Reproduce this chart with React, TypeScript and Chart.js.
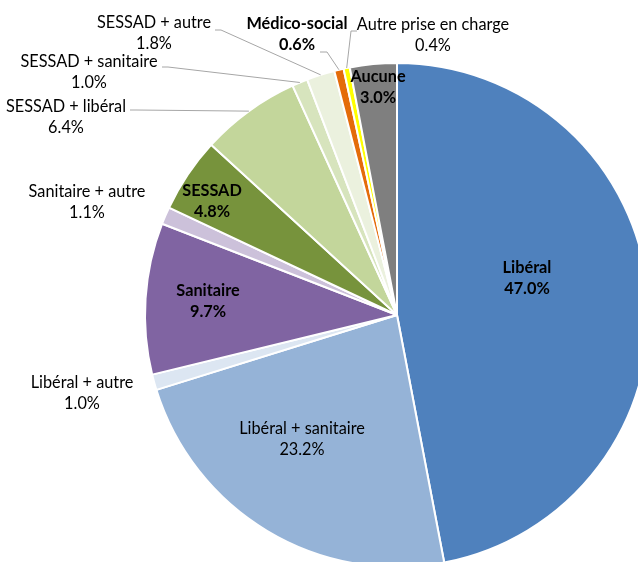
import React, { useEffect, useRef } from "react";
import { Chart, registerables } from "chart.js";

Chart.register(...registerables);

const categories = [
  "Libéral",
  "Libéral + sanitaire",
  "Libéral + autre",
  "Sanitaire",
  "Sanitaire + autre",
  "SESSAD",
  "SESSAD + libéral",
  "SESSAD + sanitaire",
  "SESSAD + autre",
  "Médico-social",
  "Autre prise en charge",
  "Aucune",
];

const shares = [47.0, 23.2, 1.0, 9.7, 1.1, 4.8, 6.4, 1.0, 1.8, 0.6, 0.4, 3.0];

const boldCategories = ["Libéral", "Sanitaire", "SESSAD", "Médico-social", "Aucune"];

const sliceColors = [
  "#4F81BD",
  "#95B3D7",
  "#DCE6F2",
  "#8064A2",
  "#CCC1DA",
  "#77933C",
  "#C3D69B",
  "#D7E4BD",
  "#EBF1DE",
  "#E46C0A",
  "#FFFF00",
  "#7F7F7F",
];

// Label layout: centre x, centre y of first line, optional leader start & elbow
type LabelLayout = { x: number; y: number; line?: [number, number][] };
const labelLayout: LabelLayout[] = [
  { x: 527, y: 268 },
  { x: 302, y: 429 },
  { x: 82, y: 383 },
  { x: 208, y: 291 },
  { x: 87, y: 192 },
  { x: 212, y: 191 },
  { x: 66, y: 107, line: [[130, 110], [136, 110]] },
  { x: 89, y: 62, line: [[162, 67], [168, 67]] },
  { x: 154, y: 23, line: [[215, 30], [221, 30]] },
  { x: 297, y: 24, line: [[320, 52], [327, 52]] },
  { x: 433, y: 25, line: [[357, 31], [351, 31]] },
  { x: 378, y: 77 },
];

const FONT = "Lato, 'Open Sans', sans-serif";

const labelPlugin = {
  id: "pieLabels",
  afterDatasetsDraw(chart: any) {
    const ctx = chart.ctx as CanvasRenderingContext2D;
    const meta = chart.getDatasetMeta(0);
    ctx.save();
    meta.data.forEach((arc: any, i: number) => {
      const lay = labelLayout[i];
      if (!lay) return;
      const { x, y, startAngle, endAngle, outerRadius } = arc.getProps(
        ["x", "y", "startAngle", "endAngle", "outerRadius"],
        true
      );
      if (lay.line) {
        const mid = (startAngle + endAngle) / 2;
        const ex = x + Math.cos(mid) * outerRadius;
        const ey = y + Math.sin(mid) * outerRadius;
        ctx.beginPath();
        ctx.strokeStyle = "#A6A6A6";
        ctx.lineWidth = 1;
        ctx.moveTo(lay.line[0][0], lay.line[0][1]);
        for (let k = 1; k < lay.line.length; k++) ctx.lineTo(lay.line[k][0], lay.line[k][1]);
        ctx.lineTo(ex, ey);
        ctx.stroke();
      }
      const bold = boldCategories.includes(categories[i]);
      ctx.font = `${bold ? "bold " : ""}16.3px ${FONT}`;
      ctx.fillStyle = "#000000";
      ctx.textAlign = "center";
      ctx.textBaseline = "middle";
      ctx.fillText(categories[i], lay.x, lay.y);
      ctx.fillText(shares[i].toFixed(1) + "%", lay.x, lay.y + 20.5);
    });
    ctx.restore();
  },
};

export default function App() {
  const ref = useRef<HTMLCanvasElement | null>(null);
  useEffect(() => {
    if (!ref.current) return;
    const chart = new Chart(ref.current, {
      type: "pie",
      data: {
        labels: categories,
        datasets: [
          {
            data: shares,
            backgroundColor: sliceColors,
            borderColor: "#FFFFFF",
            borderWidth: 2,
            hoverOffset: 0,
            clip: false as any,
          },
        ],
      },
      options: {
        responsive: false,
        animation: false,
        radius: 252,
        layout: { padding: { left: 156, right: 0, top: 68, bottom: 0 } },
        plugins: {
          legend: { display: false },
          tooltip: { enabled: false },
        },
      } as any,
      plugins: [labelPlugin],
    });
    return () => chart.destroy();
  }, []);
  return (
    <div style={{ position: "fixed", left: 0, top: 0, width: 638, height: 562, overflow: "hidden", background: "#fff" }}>
      <canvas ref={ref} width={638} height={562} style={{ display: "block" }} />
    </div>
  );
}
